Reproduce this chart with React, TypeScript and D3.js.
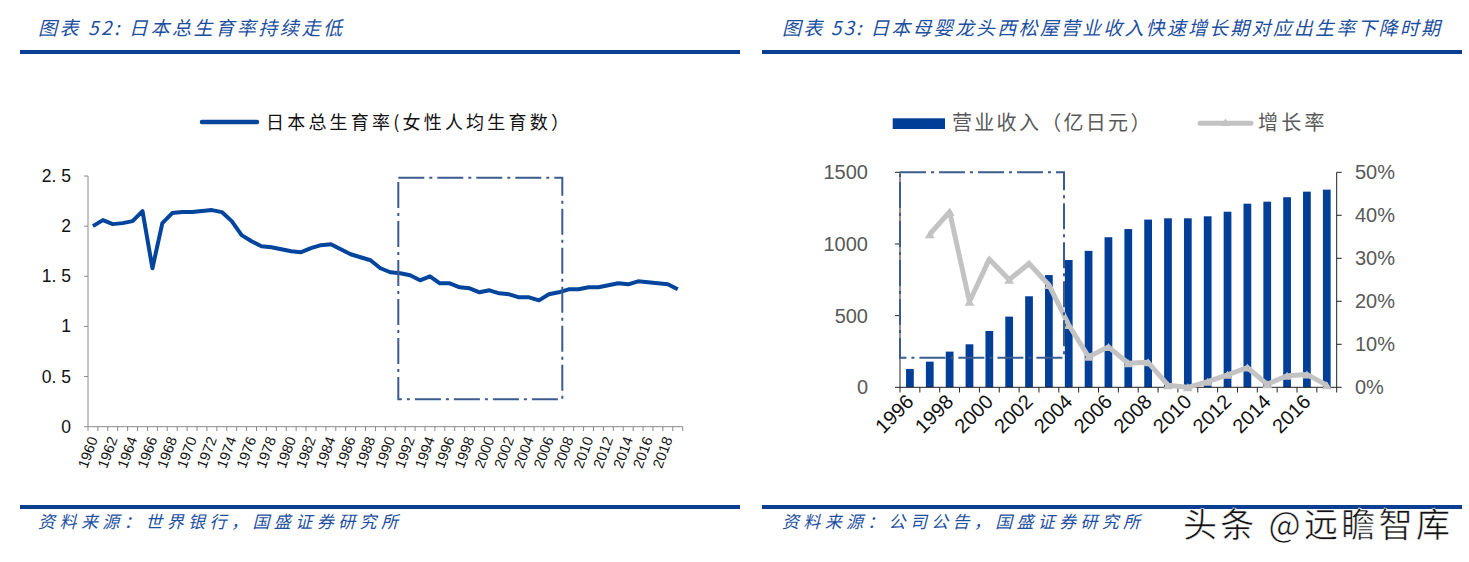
import React from "react";
import * as d3 from "d3";

// ---------- Data ----------
const title1 = "图表 52:  日本总生育率持续走低";
const title2 = "图表 53: 日本母婴龙头西松屋营业收入快速增长期对应出生率下降时期";
const source1 = "资料来源：世界银行，国盛证券研究所";
const source2 = "资料来源：公司公告，国盛证券研究所";
const watermark = "头条 @远瞻智库";

const legendTfr = "日本总生育率(女性人均生育数）";
const tfrYears = d3.range(1960, 2020);
const tfrValues = [
  2.0, 2.06, 2.02, 2.03, 2.05, 2.15, 1.58, 2.03, 2.13, 2.14,
  2.14, 2.15, 2.16, 2.14, 2.05, 1.91, 1.85, 1.8, 1.79, 1.77,
  1.75, 1.74, 1.78, 1.81, 1.82, 1.77, 1.72, 1.69, 1.66, 1.58,
  1.54, 1.53, 1.51, 1.46, 1.5, 1.43, 1.43, 1.39, 1.38, 1.34,
  1.36, 1.33, 1.32, 1.29, 1.29, 1.26, 1.32, 1.34, 1.37, 1.37,
  1.39, 1.39, 1.41, 1.43, 1.42, 1.45, 1.44, 1.43, 1.42, 1.37,
];
const tfrTicks = [0, 0.5, 1, 1.5, 2, 2.5];
const tfrTickLabels = ["0", "0. 5", "1", "1. 5", "2", "2. 5"];
const tfrYearLabels = [
  "1960", "1962", "1964", "1966", "1968", "1970", "1972", "1974", "1976", "1978",
  "1980", "1982", "1984", "1986", "1988", "1990", "1992", "1994", "1996", "1998",
  "2000", "2002", "2004", "2006", "2008", "2010", "2012", "2014", "2016", "2018",
];

const legendRevenue = "营业收入（亿日元）";
const legendGrowth = "增长率";
const revYears = d3.range(1996, 2018);
const revenue = [
  128, 179, 249, 300, 393, 493, 635, 783, 888, 952,
  1047, 1104, 1170, 1179, 1179, 1193, 1225, 1281, 1295, 1326,
  1365, 1379,
];
const growthYears = d3.range(1997, 2018);
const growth = [
  35.6, 40.8, 19.9, 29.8, 25.0, 28.8, 23.8, 14.5, 7.1, 9.4,
  5.6, 5.8, 0.5, 0.0, 1.3, 2.9, 4.6, 0.7, 2.7, 3.0, 0.5,
];
const revTicks = [0, 500, 1000, 1500];
const pctTicks = [0, 10, 20, 30, 40, 50];
const revYearLabels = [
  "1996", "1998", "2000", "2002", "2004", "2006", "2008", "2010", "2012", "2014", "2016",
];

// ---------- Styles ----------
const BLUE_RULE = "#0a3f94";
const TITLE_BLUE = "#1d4f9f";
const LINE_BLUE = "#03449c";
const BAR_BLUE = "#003e98";
const BOX_COLOR = "#3c5c8f";
const GRAY_LINE = "#c3c3c3";
const CJK = "'Noto Sans CJK SC', 'Noto Sans', sans-serif";
const NUM = "'Liberation Sans', Arial, sans-serif";
const DASH = "26 5 3 5";

export default function App() {
  // Left chart scales
  const xL = d3.scalePoint<number>().domain(tfrYears).range([88, 682.7]).padding(0.5);
  const stepL = xL.step();
  const yL = d3.scaleLinear().domain([0, 2.5]).range([426.7, 176]);
  const lineL = d3
    .line<number>()
    .x((_, i) => xL(tfrYears[i]) as number)
    .y((d) => yL(d));

  // Right chart scales
  const xR = d3.scaleBand<number>().domain(revYears).range([900, 1336.7]).paddingInner(0.61).paddingOuter(0.305);
  const stepR = xR.step();
  const yR = d3.scaleLinear().domain([0, 1500]).range([387.3, 172.3]);
  const yP = d3.scaleLinear().domain([0, 50]).range([387.3, 172.3]);
  const cx = (yr: number) => (xR(yr) as number) + xR.bandwidth() / 2;
  const lineR = d3
    .line<number>()
    .x((_, i) => cx(growthYears[i]))
    .y((d) => yP(d));

  const leftBoundaries = [...tfrYears.map((yr) => (xL(yr) as number) - stepL / 2), 682.7];
  const rightBoundaries = [...revYears.map((yr) => cx(yr) - stepR / 2), 1336.7];

  return (
    <svg
      width={1469}
      height={562}
      style={{ position: "absolute", left: 0, top: 0, background: "#fff" }}
    >
      {/* Titles & rules */}
      <text x={38} y={35} fontFamily={CJK} fontSize={19} fontStyle="italic" fill={TITLE_BLUE} textLength={304} lengthAdjust="spacing">
        {title1}
      </text>
      <text x={782} y={35} fontFamily={CJK} fontSize={19} fontStyle="italic" fill={TITLE_BLUE} textLength={658} lengthAdjust="spacing">
        {title2}
      </text>
      <rect x={20} y={50} width={720} height={4} fill={BLUE_RULE} />
      <rect x={762} y={50} width={700} height={4} fill={BLUE_RULE} />
      <rect x={20} y={505} width={720} height={4} fill={BLUE_RULE} />
      <rect x={762} y={505} width={700} height={4} fill={BLUE_RULE} />
      <text x={38} y={528} fontFamily={CJK} fontSize={17} fontStyle="italic" fill={TITLE_BLUE} textLength={360} lengthAdjust="spacing">
        {source1}
      </text>
      <text x={782} y={528} fontFamily={CJK} fontSize={17} fontStyle="italic" fill={TITLE_BLUE} textLength={358} lengthAdjust="spacing">
        {source2}
      </text>
      <text x={1183} y={537} fontFamily={CJK} fontSize={34} fill="#111" stroke="#fff" strokeWidth={0.5} textLength={267} lengthAdjust="spacing">
        {watermark}
      </text>

      {/* ---------- Left chart ---------- */}
      <line x1={202} x2={257} y1={122} y2={122} stroke={LINE_BLUE} strokeWidth={4.5} strokeLinecap="round" />
      <text x={266} y={128.5} fontFamily={CJK} fontSize={18} fill="#111" letterSpacing={3.2}>
        {legendTfr}
      </text>

      {/* y axis */}
      <line x1={88} x2={88} y1={176} y2={426.7} stroke="#8a8a8a" strokeWidth={1} />
      {tfrTicks.map((t, i) => (
        <g key={"lt" + i}>
          <line x1={84} x2={88} y1={yL(t)} y2={yL(t)} stroke="#8a8a8a" />
          <text x={71} y={yL(t) + 6} textAnchor="end" fontFamily={NUM} fontSize={17.5} fill="#111">
            {tfrTickLabels[i]}
          </text>
        </g>
      ))}
      {/* x axis */}
      <line x1={88} x2={682.7} y1={426.7} y2={426.7} stroke="#8a8a8a" />
      {leftBoundaries.map((bx, i) => (
        <line key={"lb" + i} x1={bx} x2={bx} y1={426.7} y2={431} stroke="#8a8a8a" />
      ))}
      {tfrYearLabels.map((lab) => {
        const x = xL(+lab) as number;
        return (
          <text
            key={"lx" + lab}
            transform={`translate(${x + 5},${439}) rotate(-70)`}
            textAnchor="end"
            fontFamily={NUM}
            fontSize={14.5}
            fill="#111"
          >
            {lab}
          </text>
        );
      })}
      <path d={lineL(tfrValues) || ""} fill="none" stroke={LINE_BLUE} strokeWidth={4} strokeLinejoin="round" />
      {/* highlight box */}
      <rect x={398.3} y={177.7} width={164} height={221.6} fill="none" stroke={BOX_COLOR} strokeWidth={2} strokeDasharray={DASH} />

      {/* ---------- Right chart ---------- */}
      <rect x={892.7} y={118.3} width={52.3} height={10.7} fill={BAR_BLUE} />
      <text x={952} y={130} fontFamily={CJK} fontSize={20} fill="#595959" letterSpacing={2.3}>
        {legendRevenue}
      </text>
      <line x1={1200} x2={1251} y1={123.3} y2={123.3} stroke={GRAY_LINE} strokeWidth={5} strokeLinecap="round" />
      <path d="M1220.5,126 L1225.5,118.5 L1230.5,126 Z" fill={GRAY_LINE} />
      <text x={1258} y={130} fontFamily={CJK} fontSize={20} fill="#595959" letterSpacing={3.3}>
        {legendGrowth}
      </text>

      {/* bars */}
      {revenue.map((v, i) => (
        <rect
          key={"bar" + i}
          x={xR(revYears[i]) as number}
          y={yR(v)}
          width={xR.bandwidth()}
          height={yR(0) - yR(v)}
          fill={BAR_BLUE}
        />
      ))}

      {/* axes */}
      <line x1={900} x2={900} y1={172.3} y2={387.3} stroke="#222" />
      {revTicks.map((t) => (
        <g key={"rt" + t}>
          <line x1={895} x2={900} y1={yR(t)} y2={yR(t)} stroke="#222" />
          <text x={868} y={yR(t) + 7} textAnchor="end" fontFamily={NUM} fontSize={20} fill="#595959">
            {t}
          </text>
        </g>
      ))}
      <line x1={1336.7} x2={1336.7} y1={172.3} y2={387.3} stroke="#222" />
      {pctTicks.map((t) => (
        <g key={"pt" + t}>
          <line x1={1336.7} x2={1341.7} y1={yP(t)} y2={yP(t)} stroke="#222" />
          <text x={1355} y={yP(t) + 7} textAnchor="start" fontFamily={NUM} fontSize={20} fill="#595959">
            {t + "%"}
          </text>
        </g>
      ))}
      <line x1={900} x2={1336.7} y1={387.3} y2={387.3} stroke="#222" />
      {rightBoundaries.map((bx, i) => (
        <line key={"rb" + i} x1={bx} x2={bx} y1={387.3} y2={392.5} stroke="#222" />
      ))}
      {revYearLabels.map((lab) => {
        const x = cx(+lab);
        return (
          <text
            key={"rx" + lab}
            transform={`translate(${x + 5},${403}) rotate(-45)`}
            textAnchor="end"
            fontFamily={NUM}
            fontSize={20}
            fill="#111"
          >
            {lab}
          </text>
        );
      })}

      {/* growth line */}
      <path d={lineR(growth) || ""} fill="none" stroke={GRAY_LINE} strokeWidth={5} strokeLinejoin="round" />
      {growth.map((g, i) => {
        const x = cx(growthYears[i]);
        const y = yP(g);
        return <path key={"m" + i} d={`M${x - 5},${y + 4} L${x},${y - 4} L${x + 5},${y + 4} Z`} fill={GRAY_LINE} />;
      })}

      {/* highlight box */}
      <rect x={900} y={172.3} width={164} height={185.4} fill="none" stroke={BOX_COLOR} strokeWidth={2} strokeDasharray={DASH} />
    </svg>
  );
}
